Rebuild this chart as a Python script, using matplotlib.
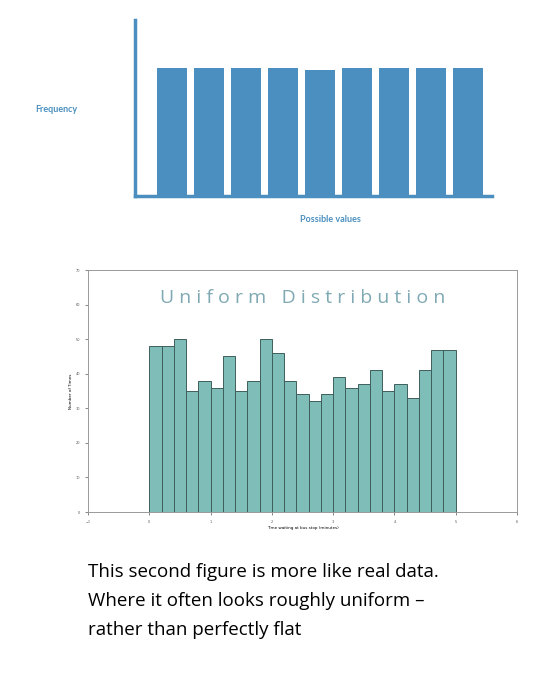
import matplotlib
matplotlib.use("Agg")
import matplotlib.pyplot as plt
import numpy as np

# top schematic: nine equal bars
top_heights = [1.0, 1.0, 1.0, 1.0, 0.99, 1.0, 1.0, 1.0, 1.0]

# lower histogram: counts per 0.2-minute bin from 0 to 5
bin_edges = np.linspace(0, 5, 26)
counts = [48, 48, 50, 35, 38, 36, 45, 35, 38, 50, 46, 38, 34, 32, 34,
          39, 36, 37, 41, 35, 37, 33, 41, 47, 47]

W, H = 560, 676
fig = plt.figure(figsize=(W / 100, H / 100), dpi=100)
blue = "#4a8fbf"


def box(x0, y0, x1, y1):
    return [x0 / W, 1 - y1 / H, (x1 - x0) / W, (y1 - y0) / H]


# --- top schematic chart
ax1 = fig.add_axes(box(135, 20, 492, 196))
x = np.arange(len(top_heights))
ax1.bar(x, top_heights, width=0.8, color=blue)
ax1.set_xlim(-1.0, len(top_heights) - 0.35)
ax1.set_ylim(0, 1.38)
for s in ["top", "right"]:
    ax1.spines[s].set_visible(False)
for s in ["left", "bottom"]:
    ax1.spines[s].set_color(blue)
    ax1.spines[s].set_linewidth(2.5)
ax1.set_xticks([])
ax1.set_yticks([])
fig.text(35 / W, 1 - 110 / H, "Frequency", color=blue, fontsize=6.5,
         fontweight="bold", va="center", family="Lato")
fig.text(330 / W, 1 - 220 / H, "Possible values", color=blue, fontsize=6.5,
         fontweight="bold", ha="center", va="center", family="Lato")

# --- histogram
ax2 = fig.add_axes(box(88, 270, 517, 512))
ax2.bar(bin_edges[:-1], counts, width=0.2, align="edge", color="#7fbdb8",
        edgecolor="#3d5f5c", linewidth=0.7)
ax2.set_xlim(-1, 6)
ax2.set_ylim(0, 70)
ax2.set_xticks(range(-1, 7))
ax2.set_yticks(range(0, 71, 10))
ax2.tick_params(labelsize=2.5, length=2, width=0.5, colors="#555555")
for s in ax2.spines.values():
    s.set_color("#999999")
    s.set_linewidth(0.7)
ax2.set_xlabel("Time waiting at bus stop (minutes)", fontsize=3, labelpad=2)
ax2.set_ylabel("Number of Times", fontsize=3, labelpad=2)
ax2.text(2.5, 62, "U n i f o r m   D i s t r i b u t i o n", ha="center",
         va="center", fontsize=14, color="#7fa9b3", family="Open Sans")

# --- caption
caption = ["This second figure is more like real data.",
           "Where it often looks roughly uniform \u2013",
           "rather than perfectly flat"]
for i, line in enumerate(caption):
    fig.text(88 / W, 1 - (572 + i * 29) / H, line, fontsize=13.5,
             va="center", family="Open Sans", color="black")

fig.savefig("out.png", dpi=100, facecolor="white")
